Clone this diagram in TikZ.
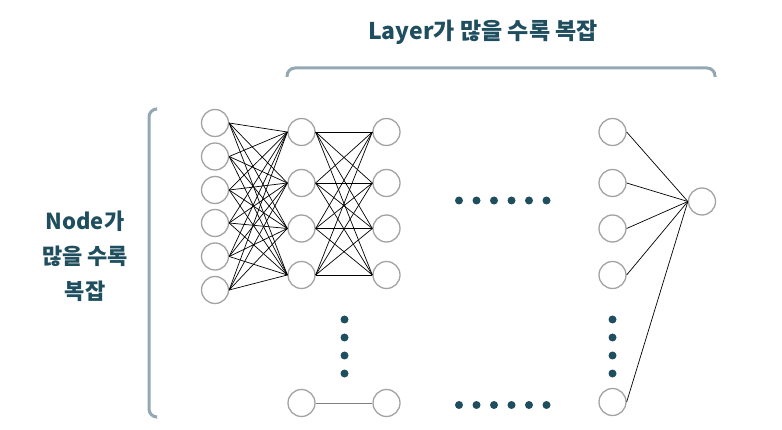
\documentclass[tikz,border=0pt]{standalone}
\usepackage{fontspec}
\setmainfont{Noto Sans CJK KR}
\usepackage{tikz}
\usetikzlibrary{arrows.meta,positioning,calc}
\definecolor{cA}{HTML}{1f4e5f}
\definecolor{cG}{HTML}{a3a3a3}
\definecolor{cB}{HTML}{93a8b2}
\tikzset{
  neuron/.style={circle,draw=cG,line width=1.3pt,fill=white,
                 minimum size=27pt,inner sep=0pt},
  dot/.style={circle,fill=cA,inner sep=0pt,minimum size=8pt},
  wire/.style={line width=0.7pt,black},
  brace/.style={line width=3pt,cB,rounded corners=8pt},
  label/.style={font=\bfseries\fontsize{22}{35}\selectfont,text=cA,align=center},
}

\begin{document}
\begin{tikzpicture}[x=1pt,y=-1pt]
  \useasboundingbox (0,0) rectangle (782,430);
  % input layer
  \foreach \i/\y in {1/123,2/156.5,3/190,4/223,5/256.5,6/290}{
     \node[neuron] (I\i) at (215,\y) {};
  }
  % hidden layers
  \foreach \j/\y in {1/132,2/183,3/228.5,4/275}{
     \node[neuron] (A\j) at (301.5,\y) {};
     \node[neuron] (B\j) at (386.5,\y) {};
     \node[neuron] (C\j) at (612.5,\y) {};
  }
  \node[neuron] (A5) at (301.5,403) {};
  \node[neuron] (B5) at (386.5,403) {};
  \node[neuron] (C5) at (612.5,402) {};
  \node[neuron] (O) at (702,201.5) {};
  % connections
  \foreach \i in {1,...,6}{
    \foreach \j in {1,...,4}{
      \draw[wire] (I\i.east) -- (A\j.west);
    }
  }
  \foreach \i in {1,...,4}{
    \foreach \j in {1,...,4}{
      \draw[wire] (A\i.east) -- (B\j.west);
    }
  }
  \draw[wire,gray,line width=1pt] (A5) -- (B5);
  \foreach \i in {1,...,5}{
     \draw[wire] (C\i.east) -- (O.west);
  }
  % ellipsis dots
  \foreach \k/\x in {1/459,2/476.5,3/494,4/511.5,5/529,6/546.5}{
     \node[dot] (h\k) at (\x,200.5) {};
     \node[dot] (g\k) at (\x,405) {};
  }
  \foreach \k/\y in {1/319.5,2/337.5,3/355.5,4/373.5}{
     \node[dot] (v\k) at (344.5,\y) {};
     \node[dot] (w\k) at (612.5,\y) {};
  }
  % brackets
  \draw[brace] (287,77) |- (715,68) -- (715,77);
  \draw[brace] (156,109) -| (149,417) -- (156,417);
  % labels
  \node[label,font=\bfseries\fontsize{23}{27}\selectfont] (title) at (483,32) {Layer가 많을 수록 복잡};
  \node[label] (side) at (85,256) {Node가\\많을 수록\\복잡};
\end{tikzpicture}
\end{document}
